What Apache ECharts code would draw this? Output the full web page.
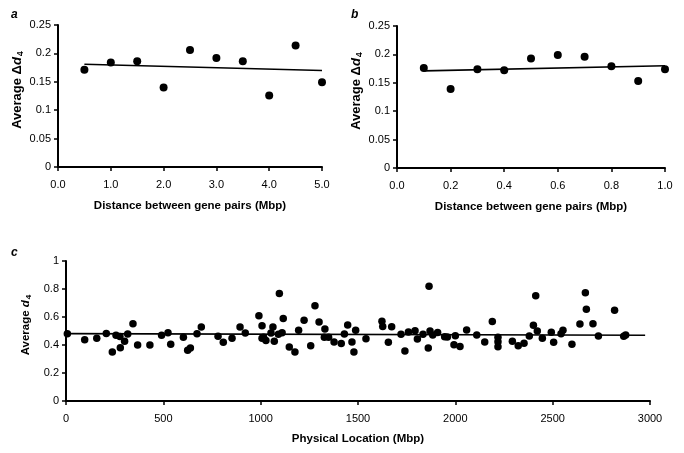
<!DOCTYPE html>
<html>
<head>
<meta charset="utf-8">
<script src="https://cdn.jsdelivr.net/npm/echarts@6/dist/echarts.min.js"></script>
<style>html,body{margin:0;padding:0;background:#fff}#main{width:684px;height:453px}</style>
</head>
<body>
<div id="main"></div>
<script>
// Panel a
var aX = [0.5, 1.0, 1.5, 2.0, 2.5, 3.0, 3.5, 4.0, 4.5, 5.0];
var aY = [0.171, 0.184, 0.186, 0.140, 0.206, 0.192, 0.186, 0.126, 0.214, 0.149];
var aTrendX = [0.5, 5.0];
var aTrendY = [0.181, 0.170];
// Panel b
var bX = [0.1, 0.2, 0.3, 0.4, 0.5, 0.6, 0.7, 0.8, 0.9, 1.0];
var bY = [0.176, 0.139, 0.174, 0.172, 0.193, 0.199, 0.196, 0.179, 0.153, 0.174];
var bTrendX = [0.1, 1.0];
var bTrendY = [0.171, 0.180];
// Panel c
var cX = [7, 96, 158, 207, 238, 257, 277, 279, 301, 317, 344, 368, 431, 491, 524, 538, 603, 625, 639, 673, 695,
  781, 808, 853, 894, 921, 991, 1007, 1007, 1015, 1027, 1053, 1063, 1070, 1091, 1096, 1110, 1116, 1147, 1176,
  1195, 1223, 1257, 1279, 1300, 1327, 1330, 1349, 1377, 1414, 1430, 1447, 1469, 1479, 1488, 1541, 1623, 1627,
  1656, 1673, 1721, 1741, 1759, 1793, 1805, 1834, 1861, 1865, 1870, 1884, 1909, 1945, 1959, 1993, 2000, 2024,
  2058, 2110, 2151, 2190, 2219, 2219, 2219, 2293, 2323, 2353, 2380, 2401, 2413, 2421, 2447, 2493, 2505, 2543,
  2553, 2599, 2640, 2668, 2673, 2707, 2735, 2818, 2865, 2875];
var cY = [0.48, 0.438, 0.448, 0.483, 0.35, 0.469, 0.46, 0.381, 0.426, 0.479, 0.552, 0.40, 0.40, 0.469, 0.488, 0.405, 0.455, 0.362, 0.379, 0.481, 0.529,
  0.462, 0.419, 0.448, 0.529, 0.486, 0.609, 0.538, 0.448, 0.455, 0.433, 0.486, 0.529, 0.426, 0.476, 0.767, 0.488, 0.59, 0.386, 0.35,
  0.505, 0.576, 0.395, 0.681, 0.564, 0.455, 0.514, 0.455, 0.421, 0.41, 0.479, 0.543, 0.421, 0.35, 0.505, 0.445, 0.569, 0.533,
  0.419, 0.531, 0.476, 0.357, 0.493, 0.502, 0.443, 0.476, 0.379, 0.819, 0.50, 0.471, 0.49, 0.459, 0.457, 0.402, 0.466, 0.39,
  0.507, 0.471, 0.421, 0.567, 0.455, 0.424, 0.388, 0.426, 0.395, 0.412, 0.464, 0.541, 0.752, 0.50, 0.448, 0.491, 0.419, 0.481,
  0.505, 0.405, 0.55, 0.774, 0.655, 0.552, 0.464, 0.648, 0.462, 0.471];
var cTrendX = [0, 2975];
var cTrendY = [0.481, 0.470];

var xTitleAB = 'Distance between gene pairs (Mbp)';
var xTitleC = 'Physical Location (Mbp)';
var panelLabels = ['a', 'b', 'c'];

function pairs(xs, ys) { return xs.map(function (x, i) { return [x, ys[i]]; }); }

var FONT = 'Liberation Sans, Arial, sans-serif';
var axisLine = { show: true, onZero: false, lineStyle: { color: '#000', width: 2 } };
var axisTick = { show: true, inside: false, length: 4, lineStyle: { color: '#000', width: 1.5 } };
var axisLabel = { color: '#000', fontSize: 11, fontFamily: FONT };
function richName(fs) {
  return {
    n: { fontSize: fs, fontWeight: 'bold', fontFamily: FONT, color: '#000' },
    d: { fontSize: fs, fontWeight: 'bold', fontStyle: 'italic', fontFamily: FONT, color: '#000' },
    s: { fontSize: Math.round(fs * 0.7), fontWeight: 'bold', fontFamily: FONT, color: '#000', padding: [Math.round(fs * 0.45), 0, 0, 1] }
  };
}

function xAx(grid, min, max, interval, dec, name, gap) {
  return {
    type: 'value', gridIndex: grid, min: min, max: max, interval: interval,
    name: name, nameLocation: 'middle', nameGap: gap,
    nameTextStyle: { fontSize: 11.5, fontWeight: 'bold', fontFamily: FONT, color: '#000' },
    axisLine: axisLine, axisTick: axisTick, splitLine: { show: false },
    axisLabel: Object.assign({}, axisLabel, { margin: 12, formatter: function (v) { return dec ? v.toFixed(dec) : String(Math.round(v)); } })
  };
}
function yAx(grid, max, interval, name, gap, pad, fs) {
  return {
    type: 'value', gridIndex: grid, min: 0, max: max, interval: interval,
    name: name, nameLocation: 'middle', nameGap: gap, nameRotate: 90,
    nameTextStyle: { rich: richName(fs), padding: pad },
    axisLine: axisLine, axisTick: axisTick, splitLine: { show: false },
    axisLabel: Object.assign({}, axisLabel, { margin: 7, formatter: function (v) { return String(+v.toFixed(2)); } })
  };
}
function scat(i, data, size) {
  return { type: 'scatter', xAxisIndex: i, yAxisIndex: i, data: data, symbol: 'circle', symbolSize: size,
    itemStyle: { color: '#000', opacity: 1 }, z: 3, silent: true };
}
function trend(i, data) {
  return { type: 'line', xAxisIndex: i, yAxisIndex: i, data: data, showSymbol: false, symbol: 'none',
    lineStyle: { color: '#000', width: 1.6 }, z: 2, silent: true, animation: false };
}
var labelStyle = { fontSize: 12, fontWeight: 'bold', fontStyle: 'italic', fontFamily: FONT, color: '#000' };

var chart = echarts.init(document.getElementById('main'), null, { renderer: 'canvas' });
chart.setOption({
  animation: false,
  backgroundColor: '#fff',
  title: [
    { text: panelLabels[0], left: 11, top: 9, padding: 0, textStyle: labelStyle },
    { text: panelLabels[1], left: 351, top: 9, padding: 0, textStyle: labelStyle },
    { text: panelLabels[2], left: 11, top: 247, padding: 0, textStyle: labelStyle }
  ],
  grid: [
    { left: 58, right: 362, top: 25, bottom: 286, containLabel: false },
    { left: 397, right: 19, top: 26, bottom: 285, containLabel: false },
    { left: 66, right: 34, top: 261, bottom: 52, containLabel: false }
  ],
  xAxis: [
    xAx(0, 0, 5, 1, 1, xTitleAB, 33),
    xAx(1, 0, 1, 0.2, 1, xTitleAB, 33),
    xAx(2, 0, 3000, 500, 0, xTitleC, 32)
  ],
  yAxis: [
    yAx(0, 0.25, 0.05, '{n|Average Δ}{d|d}{s|4}', 33, [0, 0, 0, 12], 13),
    yAx(1, 0.25, 0.05, '{n|Average Δ}{d|d}{s|4}', 33, [0, 0, 0, 12], 13),
    yAx(2, 1, 0.2, '{n|Average }{d|d}{s|4}', 30, [0, 0, 0, 12], 11.5)
  ],
  series: [
    trend(0, pairs(aTrendX, aTrendY)), scat(0, pairs(aX, aY), 8),
    trend(1, pairs(bTrendX, bTrendY)), scat(1, pairs(bX, bY), 8),
    trend(2, pairs(cTrendX, cTrendY)), scat(2, pairs(cX, cY), 7.5)
  ]
});
</script>
</body>
</html>
